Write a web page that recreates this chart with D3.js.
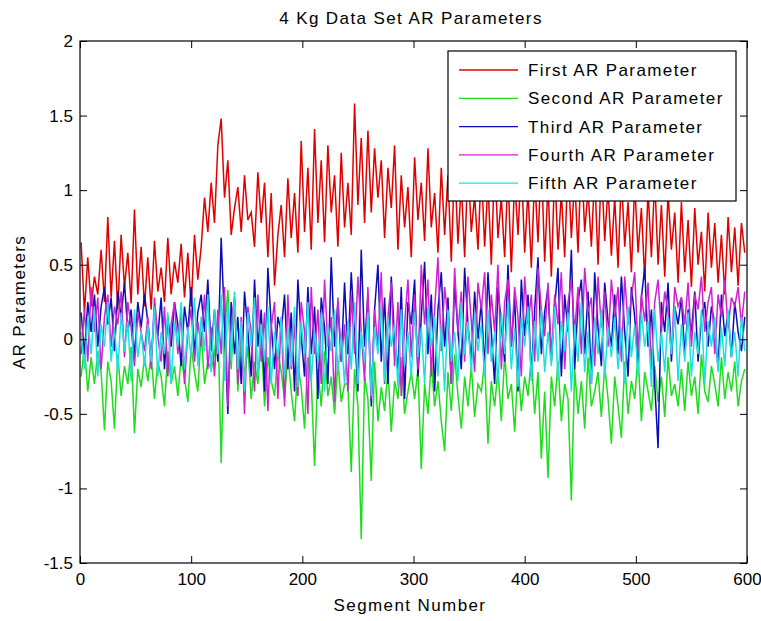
<!DOCTYPE html>
<html lang="en">
<head>
<meta charset="utf-8">
<title>4 Kg Data Set AR Parameters</title>
<script src="https://d3js.org/d3.v7.min.js"></script>
<style>
  body { margin: 0; background: #fff; }
  text { font-family: "Liberation Sans", Arial, sans-serif; fill: #000; }
  .word { letter-spacing: 1.4px; }
</style>
</head>
<body>
<script>
// segment numbers sampled every 3 segments (1, 4, ..., 598)
var segments = d3.range(1, 600, 3);

var seriesNames = ["First AR Parameter", "Second AR Parameter", "Third AR Parameter",
                   "Fourth AR Parameter", "Fifth AR Parameter"];
var seriesColors = ["#e10000", "#1fdc1f", "#0c0cb4", "#d020d0", "#1fe0e0"];

var xTicks = [0, 100, 200, 300, 400, 500, 600];
var yTicks = [-1.5, -1, -0.5, 0, 0.5, 1, 1.5, 2];

var first = [
  0.65, 0.18, 0.55, 0.22, 0.42, 0.30, 0.60, 0.25, 0.82, 0.28, 0.66, 0.20, 0.70, 0.35, 0.58, 0.24, 0.87, 0.30, 0.62, 0.22,
  0.55, 0.20, 0.66, 0.32, 0.48, 0.25, 0.68, 0.30, 0.52, 0.38, 0.64, 0.28, 0.58, 0.22, 0.70, 0.40, 0.62, 0.95, 0.72, 1.05,
  0.78, 1.30, 1.48, 0.95, 1.20, 0.70, 0.88, 1.02, 0.72, 1.10, 0.80, 0.85, 0.62, 1.12, 0.78, 1.05, 0.55, 0.98, 0.36, 0.70,
  0.90, 0.55, 1.08, 0.68, 0.98, 0.58, 1.33, 0.72, 1.15, 0.60, 1.41, 0.78, 1.20, 0.65, 1.30, 0.85, 1.10, 0.62, 1.25, 0.75,
  1.05, 0.70, 1.58, 0.90, 1.35, 0.78, 1.40, 0.85, 1.28, 0.95, 1.20, 0.68, 1.15, 0.88, 1.30, 0.60, 1.10, 0.75, 1.02, 0.55,
  1.22, 0.80, 1.05, 0.66, 1.28, 0.75, 0.98, 0.58, 1.15, 0.70, 1.10, 0.52, 1.20, 0.64, 1.05, 0.55, 1.18, 0.72, 0.96, 0.60,
  1.15, 0.62, 1.05, 0.50, 1.20, 0.68, 0.95, 0.55, 1.12, 0.45, 1.08, 0.70, 1.18, 0.58, 1.00, 0.48, 1.10, 0.65, 1.22, 0.52,
  1.05, 0.42, 1.15, 0.60, 0.98, 0.55, 1.20, 0.68, 1.08, 0.58, 1.25, 0.72, 1.00, 0.62, 1.12, 0.50, 1.18, 0.66, 1.02, 0.56,
  0.95, 0.48, 1.10, 0.62, 0.92, 0.45, 1.05, 0.58, 0.88, 0.40, 1.00, 0.55, 1.08, 0.50, 0.90, 0.42, 0.98, 0.60, 0.85, 0.38,
  0.92, 0.45, 0.80, 0.35, 0.88, 0.50, 0.72, 0.32, 0.85, 0.48, 0.78, 0.38, 0.70, 0.30, 0.82, 0.45, 0.75, 0.36, 0.78, 0.58
];

var second = [
  -0.25, -0.05, -0.35, -0.12, -0.30, -0.08, -0.22, -0.61, -0.15, -0.28, -0.60, -0.10, -0.38, -0.18, -0.30, -0.05, -0.63, -0.20, -0.32, -0.12,
  -0.28, -0.10, -0.40, -0.15, -0.25, -0.45, -0.08, -0.30, -0.18, -0.38, -0.12, -0.26, -0.42, -0.05, -0.22, -0.35, 0.05, -0.30, -0.15, -0.20,
  -0.10, 0.15, -0.83, 0.05, 0.33, -0.20, 0.28, -0.35, 0.10, -0.25, -0.05, -0.40, -0.15, -0.30, 0.02, -0.45, -0.12, -0.28, -0.38, -0.08,
  -0.22, -0.40, -0.10, -0.35, -0.55, -0.18, -0.32, -0.60, -0.12, -0.28, -0.85, -0.20, -0.45, -0.08, -0.38, -0.25, -0.50, -0.15, -0.42, -0.30,
  -0.30, -0.89, -0.20, -0.45, -1.34, -0.25, -0.40, -0.95, -0.15, -0.55, -0.32, -0.48, -0.20, -0.62, -0.28, -0.40, -0.12, -0.50, -0.35, -0.22,
  -0.40, -0.20, -0.87, -0.30, -0.50, -0.15, -0.45, -0.28, -0.55, -0.75, -0.22, -0.48, -0.10, -0.38, -0.60, -0.25, -0.45, -0.18, -0.52, -0.30,
  -0.35, -0.15, -0.70, -0.28, -0.45, -0.20, -0.55, -0.10, -0.40, -0.30, -0.62, -0.18, -0.48, -0.25, -0.38, -0.12, -0.50, -0.22, -0.80, -0.35,
  -0.93, -0.25, -0.45, -0.15, -0.55, -0.30, -0.40, -1.08, -0.20, -0.50, -0.28, -0.60, -0.12, -0.45, -0.35, -0.22, -0.52, -0.18, -0.40, -0.70,
  -0.25, -0.45, -0.66, -0.15, -0.50, -0.28, -0.40, -0.10, -0.55, -0.22, -0.35, -0.48, -0.18, -0.42, -0.25, -0.52, -0.12, -0.38, -0.30, -0.45,
  -0.20, -0.48, -0.15, -0.38, -0.25, -0.50, -0.10, -0.35, -0.42, -0.18, -0.30, -0.45, -0.12, -0.40, -0.22, -0.35, -0.15, -0.45, -0.28, -0.20
];

var third = [
  0.18, -0.10, 0.25, 0.05, 0.30, -0.05, 0.22, 0.35, 0.10, 0.28, -0.08, 0.32, 0.15, 0.38, 0.05, 0.20, -0.12, 0.25, 0.08, 0.30,
  0.12, -0.15, 0.20, 0.02, 0.28, -0.20, 0.15, -0.05, 0.25, 0.10, -0.18, 0.22, 0.05, 0.35, -0.10, 0.18, 0.30, 0.05, 0.40, -0.08,
  0.20, -0.15, 0.68, 0.10, -0.50, 0.25, -0.10, 0.15, -0.30, 0.32, 0.05, -0.25, 0.40, -0.05, 0.20, -0.35, 0.48, 0.10, -0.20, 0.15,
  0.05, 0.30, -0.20, 0.18, -0.35, 0.40, 0.02, -0.25, 0.35, -0.10, 0.22, -0.40, 0.28, 0.08, -0.30, 0.55, -0.05, 0.25, -0.15, 0.38,
  -0.10, 0.45, 0.05, -0.35, 0.60, -0.05, 0.30, -0.45, 0.20, 0.50, -0.15, 0.28, -0.30, 0.42, 0.00, -0.20, 0.35, -0.40, 0.25, 0.10,
  0.40, -0.25, 0.15, 0.52, -0.10, 0.30, -0.35, 0.20, 0.45, -0.05, 0.28, -0.30, 0.38, 0.05, -0.20, 0.48, 0.10, -0.15, 0.32, 0.00,
  0.25, -0.20, 0.45, 0.05, -0.30, 0.35, 0.10, -0.15, 0.50, -0.05, 0.28, -0.35, 0.40, 0.02, 0.30, -0.25, 0.20, 0.55, -0.10, 0.18,
  0.35, -0.15, 0.22, 0.48, -0.25, 0.30, 0.05, 0.60, -0.20, 0.25, 0.40, -0.10, 0.32, -0.30, 0.45, 0.08, -0.18, 0.38, 0.12, -0.05,
  0.30, -0.10, 0.42, 0.05, -0.25, 0.35, 0.15, -0.20, 0.28, 0.48, -0.05, 0.20, -0.30, -0.73, 0.25, 0.05, 0.38, -0.15, 0.22, 0.10,
  0.28, -0.10, 0.20, 0.05, 0.32, -0.15, 0.15, 0.25, -0.05, 0.22, 0.10, -0.20, 0.30, 0.02, 0.18, -0.12, 0.25, 0.05, -0.08, 0.15
];

var fourth = [
  -0.10, 0.20, -0.15, 0.35, 0.05, 0.28, -0.20, 0.15, 0.30, -0.05, 0.22, 0.10, 0.32, -0.12, 0.25, 0.08, -0.18, 0.18, 0.05, -0.08,
  0.15, -0.20, 0.28, 0.02, -0.15, 0.22, -0.25, 0.10, 0.25, -0.10, 0.18, -0.30, 0.05, 0.20, -0.15, 0.12, -0.05, 0.30, -0.20, 0.08,
  -0.25, 0.20, -0.10, 0.35, -0.45, 0.10, 0.28, -0.30, 0.15, -0.50, 0.22, 0.05, -0.35, 0.30, -0.15, 0.18, -0.48, 0.08, 0.25, -0.40,
  0.15, -0.45, 0.30, -0.20, 0.10, -0.38, 0.25, 0.05, -0.50, 0.35, -0.10, 0.20, -0.30, 0.40, -0.05, 0.15, -0.42, 0.28, -0.15, 0.10,
  -0.35, 0.30, -0.10, 0.42, 0.05, -0.28, 0.35, -0.40, 0.20, -0.05, 0.45, -0.30, 0.15, 0.38, -0.18, 0.25, -0.38, 0.10, 0.40, -0.12,
  0.30, -0.20, 0.50, 0.10, 0.40, -0.25, 0.20, 0.55, -0.08, 0.35, 0.15, -0.30, 0.48, 0.05, 0.32, -0.15, 0.42, 0.12, -0.22, 0.38,
  0.20, 0.45, -0.10, 0.30, 0.05, 0.50, -0.20, 0.25, 0.40, -0.05, 0.35, 0.15, -0.25, 0.42, 0.10, 0.30, -0.15, 0.48, 0.20, 0.02,
  0.38, -0.12, 0.30, 0.10, 0.45, -0.20, 0.25, 0.40, 0.05, 0.35, -0.10, 0.48, 0.18, 0.28, -0.18, 0.42, 0.08, 0.32, -0.05, 0.40,
  0.15, 0.35, -0.15, 0.42, 0.10, 0.28, 0.45, -0.08, 0.30, 0.12, 0.38, -0.20, 0.25, 0.40, 0.05, 0.32, 0.18, -0.10, 0.35, 0.22,
  0.28, 0.10, 0.38, -0.05, 0.30, 0.20, 0.42, 0.05, 0.25, 0.35, -0.10, 0.30, 0.15, 0.40, 0.08, 0.28, 0.22, 0.35, 0.10, 0.32
];

var fifth = [
  0.05, -0.20, 0.15, -0.10, 0.22, -0.25, 0.10, -0.05, 0.25, -0.15, 0.08, -0.22, 0.18, -0.08, 0.12, -0.28, 0.20, -0.12, 0.05, -0.18,
  0.10, -0.15, 0.22, -0.25, 0.05, -0.10, 0.18, -0.30, 0.12, -0.05, 0.25, -0.20, 0.08, -0.12, 0.28, -0.18, 0.15, -0.08, 0.30, -0.22,
  0.20, -0.10, 0.30, -0.28, 0.25, -0.15, 0.32, -0.20, 0.12, -0.35, 0.18, -0.05, 0.28, -0.25, 0.10, -0.15, 0.22, -0.30, 0.05, -0.12,
  0.15, -0.25, 0.08, -0.18, 0.22, -0.32, 0.12, -0.10, 0.25, -0.28, 0.05, -0.15, 0.18, -0.35, 0.10, -0.08, 0.20, -0.22, 0.02, -0.30,
  0.12, -0.20, 0.25, -0.30, 0.05, -0.15, 0.18, -0.38, 0.08, -0.10, 0.22, -0.28, 0.15, -0.05, 0.10, -0.32, 0.20, -0.18, 0.05, -0.25,
  0.18, -0.12, 0.08, -0.30, 0.22, -0.05, 0.15, -0.25, 0.10, -0.35, 0.20, -0.15, 0.05, -0.28, 0.25, -0.10, 0.12, -0.22, 0.18, -0.08,
  0.10, -0.25, 0.20, -0.15, 0.05, -0.30, 0.18, -0.10, 0.25, -0.20, 0.08, -0.32, 0.15, -0.05, 0.22, -0.28, 0.12, -0.15, 0.20, -0.22,
  0.05, -0.18, 0.22, -0.28, 0.12, -0.08, 0.18, -0.35, 0.10, -0.15, 0.25, -0.22, 0.05, -0.30, 0.15, -0.10, 0.20, -0.25, 0.08, -0.12,
  0.15, -0.20, 0.08, -0.30, 0.22, -0.12, 0.10, -0.25, 0.18, -0.05, 0.12, -0.32, 0.20, -0.15, 0.05, -0.22, 0.15, -0.10, 0.22, -0.28,
  0.10, -0.15, 0.18, -0.25, 0.05, -0.10, 0.20, -0.30, 0.12, -0.05, 0.15, -0.22, 0.08, -0.18, 0.20, -0.12, 0.05, -0.25, 0.15, -0.08
];

var seriesValues = [first, second, third, fourth, fifth];

var w = 761, h = 621;
var margin = {top: 41, right: 14, bottom: 58, left: 80};
var iw = w - margin.left - margin.right;
var ih = h - margin.top - margin.bottom;

var svg = d3.select("body").append("svg")
    .attr("width", w)
    .attr("height", h);

var x = d3.scaleLinear().domain([0, 600]).range([0, iw]);
var y = d3.scaleLinear().domain([-1.5, 2]).range([ih, 0]);

var g = svg.append("g").attr("transform", "translate(" + margin.left + "," + margin.top + ")");

svg.append("defs").append("clipPath").attr("id", "plotclip")
  .append("rect").attr("width", iw).attr("height", ih);

// lines
var line = d3.line()
    .x(function(d, i) { return x(segments[i]); })
    .y(function(d) { return y(d); });

g.append("g").attr("clip-path", "url(#plotclip)")
  .selectAll("path")
  .data(seriesValues)
  .enter().append("path")
    .attr("d", line)
    .attr("fill", "none")
    .attr("stroke", function(d, i) { return seriesColors[i]; })
    .attr("stroke-width", 1.5)
    .attr("stroke-linejoin", "miter");

// axes, ticks pointing inwards, on all four sides
var tickLen = 7;
g.append("g").attr("transform", "translate(0," + ih + ")")
  .call(d3.axisBottom(x).tickValues(xTicks).tickSizeInner(-tickLen).tickSizeOuter(0).tickPadding(10))
  .call(function(a) { a.select(".domain").remove(); });
g.append("g")
  .call(d3.axisLeft(y).tickValues(yTicks).tickSizeInner(-tickLen).tickSizeOuter(0).tickPadding(7)
        .tickFormat(function(d) { return String(d); }))
  .call(function(a) { a.select(".domain").remove(); });
g.append("g")
  .call(d3.axisTop(x).tickValues(xTicks).tickSizeInner(-tickLen).tickSizeOuter(0).tickFormat(""))
  .call(function(a) { a.select(".domain").remove(); });
g.append("g").attr("transform", "translate(" + iw + ",0)")
  .call(d3.axisRight(y).tickValues(yTicks).tickSizeInner(-tickLen).tickSizeOuter(0).tickFormat(""))
  .call(function(a) { a.select(".domain").remove(); });

g.selectAll(".tick line").attr("stroke", "#000").attr("stroke-width", 1);
g.selectAll(".tick text")
  .style("font-family", "'Liberation Sans', Arial, sans-serif")
  .style("font-size", "17px")
  .attr("fill", "#000");

g.append("rect")
  .attr("width", iw).attr("height", ih)
  .attr("fill", "none").attr("stroke", "#000").attr("stroke-width", 1.2);

// titles
svg.append("text")
  .attr("class", "word")
  .attr("x", 411).attr("y", 24)
  .attr("text-anchor", "middle")
  .style("font-size", "17px")
  .text("4 Kg Data Set AR Parameters");

svg.append("text")
  .attr("class", "word")
  .attr("x", 410).attr("y", 611)
  .attr("text-anchor", "middle")
  .style("font-size", "17px")
  .text("Segment Number");

svg.append("text")
  .attr("class", "word")
  .attr("transform", "translate(25," + (margin.top + ih / 2) + ") rotate(-90)")
  .attr("text-anchor", "middle")
  .style("font-size", "17px")
  .text("AR Parameters");

// legend
var lg = svg.append("g").attr("transform", "translate(448,51)");
lg.append("rect")
  .attr("width", 288).attr("height", 150)
  .attr("fill", "#fff").attr("stroke", "#000").attr("stroke-width", 1.2);

var items = lg.selectAll("g.item")
  .data(seriesNames)
  .enter().append("g")
    .attr("class", "item")
    .attr("transform", function(d, i) { return "translate(0," + (19 + i * 28.3) + ")"; });

items.append("line")
  .attr("x1", 11).attr("x2", 70)
  .attr("stroke", function(d, i) { return seriesColors[i]; })
  .attr("stroke-width", 1.3);

items.append("text")
  .attr("class", "word")
  .attr("x", 80).attr("dy", "0.35em")
  .style("font-size", "17px")
  .text(function(d) { return d; });
</script>
</body>
</html>
